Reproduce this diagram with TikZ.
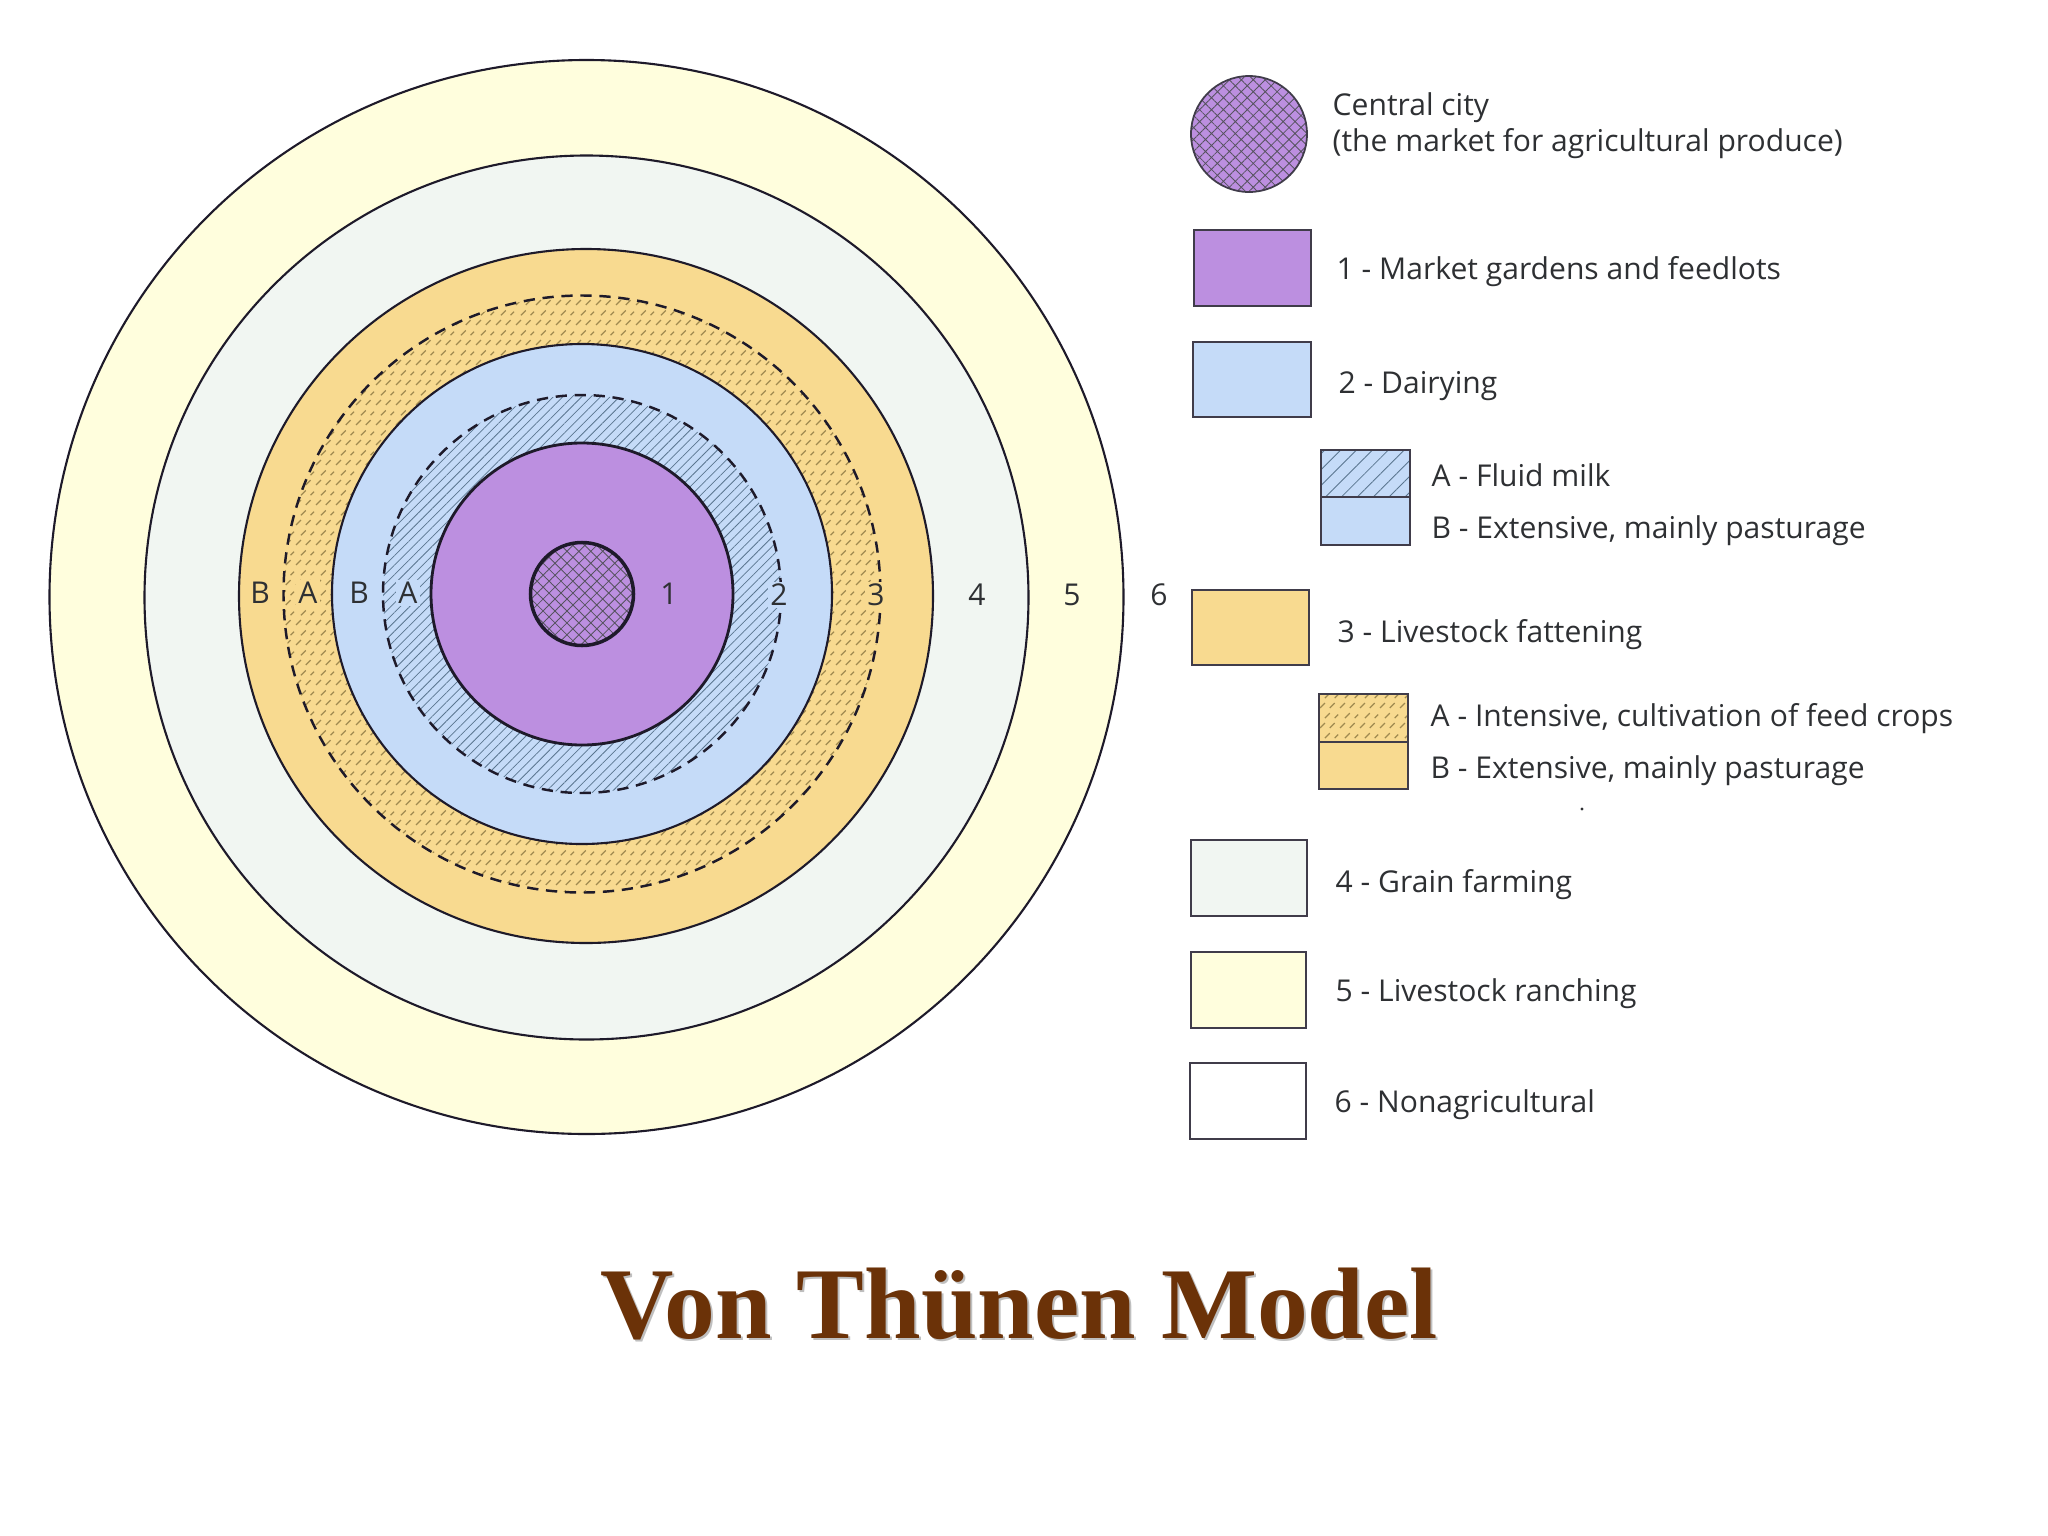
\documentclass[tikz,border=0pt]{standalone}
\usepackage{fontspec}
\setmainfont{Open Sans}
\newfontfamily\titlefont{Liberation Serif}
\usetikzlibrary{patterns,patterns.meta}

\definecolor{cityPurple}{HTML}{BC8FE0}
\definecolor{dairyBlue}{HTML}{C5DBF8}
\definecolor{fatteningOrange}{HTML}{F8DA90}
\definecolor{grainGrey}{HTML}{F1F6F2}
\definecolor{ranchingYellow}{HTML}{FFFEDD}
\definecolor{lineInk}{HTML}{1E1A2A}
\definecolor{textInk}{HTML}{2E3033}
\definecolor{titleBrown}{HTML}{6B3208}
\definecolor{milkInk}{HTML}{5A7690}
\definecolor{cropInk}{HTML}{A08A50}

% short slanted strokes for the feed crops
\pgfdeclarepatternformonly{feedcrops}{\pgfqpoint{0pt}{0pt}}{\pgfqpoint{5.6pt}{5.6pt}}{\pgfqpoint{5.6pt}{5.6pt}}{
  \pgfsetlinewidth{0.35pt}
  \pgfpathmoveto{\pgfqpoint{0.3pt}{0.3pt}}
  \pgfpathlineto{\pgfqpoint{1.7pt}{1.7pt}}
  \pgfpathmoveto{\pgfqpoint{3.1pt}{0.3pt}}
  \pgfpathlineto{\pgfqpoint{4.5pt}{1.7pt}}
  \pgfpathmoveto{\pgfqpoint{1.7pt}{3.1pt}}
  \pgfpathlineto{\pgfqpoint{3.1pt}{4.5pt}}
  \pgfpathmoveto{\pgfqpoint{4.5pt}{3.1pt}}
  \pgfpathlineto{\pgfqpoint{5.5pt}{4.1pt}}
  \pgfusepath{stroke}
}

\tikzset{
  ringline/.style={draw=lineInk, line width=0.6pt},
  ringinner/.style={draw=lineInk, line width=0.8pt},
  ringdash/.style={draw=lineInk, line width=0.7pt, dash pattern=on 3.2pt off 2.2pt},
  legendbox/.style={draw=lineInk!85, line width=0.5pt},
  legendtext/.style={anchor=base west, inner sep=0pt, text=textInk, font=\fontsize{8.55}{10}\selectfont},
  ringlabel/.style={inner sep=0.6pt, text=textInk, font=\fontsize{8.55}{10}\selectfont},
  crosshatch/.style={pattern={Hatch[angle=45,distance=2.4pt,line width=0.24pt]}, pattern color=lineInk!75},
  milkhatch/.style={pattern={Lines[angle=45,distance=1.9pt,line width=0.22pt]}, pattern color=milkInk},
  milklegend/.style={pattern={Lines[angle=45,distance=3.2pt,line width=0.25pt]}, pattern color=milkInk},
  cropshatch/.style={pattern=feedcrops, pattern color=cropInk}
}

\begin{document}
\begin{tikzpicture}[x=0.01cm, y=-0.01cm]
  \useasboundingbox (0,0) rectangle (2048,1536);

  % Define the rings
  \def\ringFive{(586.5,597) circle (537)}
  \def\ringFour{(586.5,597.5) circle (442)}
  \def\ringThree{(586,596) circle (347)}
  \def\ringThreeA{(582,594) circle (298.5)}
  \def\ringTwo{(582,594) circle (250)}
  \def\ringTwoA{(582,594) circle (199)}
  \def\ringOne{(582,594) circle (151)}
  \def\ringCity{(582,594) circle (51.5)}

  % Draw the rings from the outside in
  \fill[ranchingYellow] \ringFive;
  \draw[ringline] \ringFive;
  \fill[grainGrey] \ringFour;
  \draw[ringline] \ringFour;
  \fill[fatteningOrange] \ringThree;
  \draw[ringline] \ringThree;
  \fill[cropshatch] \ringThreeA;
  \draw[ringdash] \ringThreeA;
  \fill[dairyBlue] \ringTwo;
  \draw[ringline] \ringTwo;
  \fill[milkhatch] \ringTwoA;
  \draw[ringdash] \ringTwoA;
  \fill[cityPurple] \ringOne;
  \draw[ringinner] \ringOne;
  \fill[crosshatch] \ringCity;
  \draw[lineInk, line width=1pt] \ringCity;

  % Ring labels
  \node[ringlabel] (labelThreeB) at (260,593) {B};
  \node[ringlabel, fill=fatteningOrange] (labelThreeA) at (308,593) {A};
  \node[ringlabel] (labelTwoB) at (359,593) {B};
  \node[ringlabel, fill=dairyBlue] (labelTwoA) at (408,593) {A};
  \node[ringlabel] (labelOne) at (669,594) {1};
  \node[ringlabel, fill=dairyBlue] (labelTwo) at (779,595) {2};
  \node[ringlabel, fill=fatteningOrange] (labelThree) at (876,595) {3};
  \node[ringlabel] (labelFour) at (977,595) {4};
  \node[ringlabel] (labelFive) at (1072,595) {5};
  \node[ringlabel] (labelSix) at (1159,595) {6};

  % Legend
  \fill[cityPurple] (1249,134) circle (58);
  \fill[crosshatch] (1249,134) circle (58);
  \draw[legendbox] (1249,134) circle (58);
  \node[legendtext] (legendCity) at (1332,115) {Central city};
  \node[legendtext] (legendMarket) at (1332,151) {(the market for agricultural produce)};

  \draw[legendbox, fill=cityPurple] (1194,230) rectangle (1311,306);
  \node[legendtext] (legendOne) at (1336,279) {1 - Market gardens and feedlots};

  \draw[legendbox, fill=dairyBlue] (1193,342) rectangle (1311,417);
  \node[legendtext] (legendTwo) at (1338,393) {2 - Dairying};

  \fill[dairyBlue] (1321,450) rectangle (1410,545);
  \fill[milklegend] (1321,450) rectangle (1410,497);
  \draw[legendbox] (1321,450) rectangle (1410,545);
  \draw[legendbox] (1321,497) -- (1410,497);
  \node[legendtext] (legendTwoA) at (1431,486) {A - Fluid milk};
  \node[legendtext] (legendTwoB) at (1431,538) {B - Extensive, mainly pasturage};

  \draw[legendbox, fill=fatteningOrange] (1192,590) rectangle (1309,665);
  \node[legendtext] (legendThree) at (1337,642) {3 - Livestock fattening};

  \fill[fatteningOrange] (1319,694) rectangle (1408,789);
  \fill[cropshatch] (1319,694) rectangle (1408,742);
  \draw[legendbox] (1319,694) rectangle (1408,789);
  \draw[legendbox] (1319,742) -- (1408,742);
  \node[legendtext] (legendThreeA) at (1430,726) {A - Intensive, cultivation of feed crops};
  \node[legendtext] (legendThreeB) at (1430,778) {B - Extensive, mainly pasturage};
  \fill[textInk] (1582,809) circle (1.6);

  \draw[legendbox, fill=grainGrey] (1191,840) rectangle (1307,916);
  \node[legendtext] (legendFour) at (1335,892) {4 - Grain farming};

  \draw[legendbox, fill=ranchingYellow] (1191,952) rectangle (1306,1028);
  \node[legendtext] (legendFive) at (1335,1001) {5 - Livestock ranching};

  \draw[legendbox, fill=white] (1190,1063) rectangle (1306,1139);
  \node[legendtext] (legendSix) at (1334,1112) {6 - Nonagricultural};

  % Title with its soft shadow
  \node[text=black!25, font=\titlefont\bfseries\fontsize{28.9}{36}\selectfont] (titleShadow) at (1021,1306) {Von Thünen Model};
  \node[text=titleBrown, font=\titlefont\bfseries\fontsize{28.9}{36}\selectfont] (title) at (1019,1304) {Von Thünen Model};
\end{tikzpicture}
\end{document}
